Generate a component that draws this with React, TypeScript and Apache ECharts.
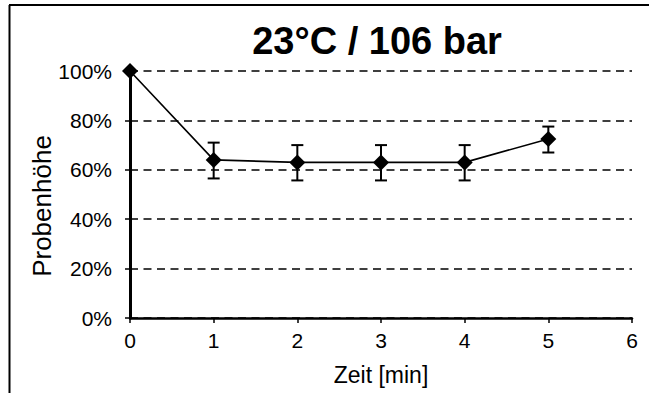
import React, { useEffect, useRef } from "react";
import * as echarts from "echarts";

const times = [0, 1, 2, 3, 4, 5];
const heights = [1.0, 0.64, 0.63, 0.63, 0.63, 0.725];
const errLow = [1.0, 0.565, 0.557, 0.557, 0.557, 0.67];
const errHigh = [1.0, 0.71, 0.70, 0.70, 0.70, 0.775];
const hasErr = [false, true, true, true, true, true];
const yTicks = [0, 0.2, 0.4, 0.6, 0.8, 1.0];
const titleText = "23°C / 106 bar";
const xName = "Zeit [min]";
const yName = "Probenhöhe";

const FONT = "'Liberation Sans', Arial, sans-serif";

export default function App() {
  const ref = useRef<HTMLDivElement>(null);
  useEffect(() => {
    if (!ref.current) return;
    const chart = echarts.init(ref.current, undefined, { renderer: "svg" });
    const lineData = times.map((t, i) => [t, heights[i]]);
    const errData = times
      .map((t, i) => (hasErr[i] ? [t, errLow[i], errHigh[i]] : null))
      .filter((d) => d !== null);
    chart.setOption({
      animation: false,
      backgroundColor: "#fff",
      textStyle: { fontFamily: FONT },
      title: {
        text: titleText,
        left: 372,
        top: 17,
        textAlign: "center",
        textStyle: { fontFamily: FONT, fontWeight: "bold", fontSize: 38, color: "#000" },
      },
      grid: { left: 130, right: 17, top: 71, bottom: 75, containLabel: false },
      xAxis: {
        type: "value",
        min: 0,
        max: 6,
        interval: 1,
        axisLine: { show: true, lineStyle: { color: "#000", width: 2.5 } },
        axisTick: { show: true, inside: false, length: 5, lineStyle: { color: "#000", width: 1.5 } },
        axisLabel: { color: "#000", fontSize: 21, fontFamily: FONT, margin: 12 },
        splitLine: { show: false },
      },
      yAxis: {
        type: "value",
        min: 0,
        max: 1,
        interval: 0.2,
        axisLine: { show: true, onZero: false, lineStyle: { color: "#000", width: 3 } },
        axisTick: { show: true, inside: false, length: 5, lineStyle: { color: "#000", width: 1.5 } },
        axisLabel: {
          color: "#000",
          fontSize: 21,
          fontFamily: FONT,
          margin: 18,
          formatter: (v: number) => {
            const match = yTicks.find((t) => Math.abs(t - v) < 1e-6);
            return match !== undefined ? Math.round(match * 100) + "%" : "";
          },
        },
        splitLine: {
          show: true,
          lineStyle: { color: "#000", width: 1.5, type: [8, 5.5] },
        },
      },
      graphic: [
        {
          type: "line",
          shape: { x1: 9, y1: 5, x2: 649, y2: 5 },
          style: { stroke: "#000", lineWidth: 2 },
        },
        {
          type: "line",
          shape: { x1: 9.5, y1: 5, x2: 9.5, y2: 393 },
          style: { stroke: "#000", lineWidth: 2 },
        },
        {
          type: "text",
          x: 381,
          y: 375,
          style: {
            text: xName,
            fill: "#000",
            font: `23px ${FONT}`,
            align: "center",
            verticalAlign: "middle",
          },
        },
        {
          type: "text",
          x: 42,
          y: 206,
          rotation: Math.PI / 2,
          style: {
            text: yName,
            fill: "#000",
            font: `26px ${FONT}`,
            align: "center",
            verticalAlign: "middle",
          },
        },
      ],
      series: [
        {
          type: "custom",
          name: "err",
          data: errData,
          z: 3,
          renderItem: (params: any, api: any) => {
            const x = api.value(0);
            const lo = api.coord([x, api.value(1)]);
            const hi = api.coord([x, api.value(2)]);
            const w = 6;
            const st = { stroke: "#000", lineWidth: 2 };
            return {
              type: "group",
              children: [
                { type: "line", shape: { x1: hi[0], y1: hi[1], x2: lo[0], y2: lo[1] }, style: st },
                { type: "line", shape: { x1: hi[0] - w, y1: hi[1], x2: hi[0] + w, y2: hi[1] }, style: st },
                { type: "line", shape: { x1: lo[0] - w, y1: lo[1], x2: lo[0] + w, y2: lo[1] }, style: st },
              ],
            };
          },
        },
        {
          type: "line",
          name: "Probenhöhe",
          data: lineData,
          z: 4,
          symbol: "diamond",
          symbolSize: [16, 16],
          showAllSymbol: true,
          itemStyle: { color: "#000" },
          lineStyle: { color: "#000", width: 1.6 },
        },
      ],
    });
    return () => chart.dispose();
  }, []);
  return (
    <div
      ref={ref}
      style={{ position: "fixed", left: 0, top: 0, width: 649, height: 393, background: "#fff" }}
    />
  );
}
